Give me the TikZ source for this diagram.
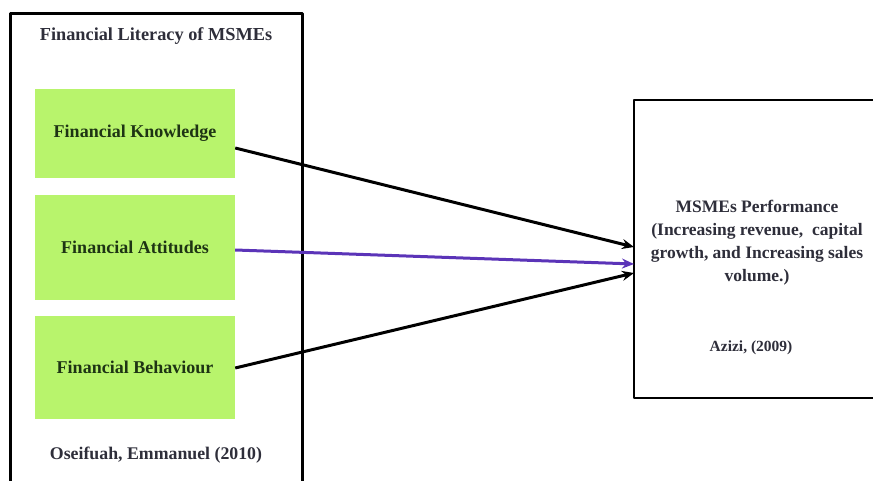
\documentclass[tikz,border=0pt]{standalone}
\usepackage{fontspec}
\setmainfont{Liberation Serif}
\usetikzlibrary{arrows.meta}
\definecolor{limegreen}{HTML}{B8F46C}
\definecolor{darktext}{HTML}{2E2E3A}
\definecolor{greentext}{HTML}{1E3414}
\definecolor{arrowpurple}{HTML}{5B34B8}
\begin{document}
\begin{tikzpicture}[x=1pt, y=-1pt, line join=round, >={Stealth[length=12pt,width=10pt]},
  factor/.style={fill=limegreen, minimum width=200pt, minimum height=96pt, inner sep=0pt, font=\bfseries\fontsize{18}{20}\selectfont, text=greentext},
  link/.style={line width=3pt, ->}]
  \useasboundingbox (0,0) rectangle (873,481);
  \clip (0,0) rectangle (873,481);

  % Khung bên trái: Financial Literacy
  \draw[line width=3pt] (10,14) rectangle (302,520);
  \node[font=\bfseries\fontsize{18.3}{20}\selectfont, text=darktext] (title) at (156,36) {Financial Literacy of MSMEs};
  \node[font=\bfseries\fontsize{17.8}{20}\selectfont, text=darktext] (src1) at (156,455) {Oseifuah, Emmanuel (2010)};

  % Các ô thành phần
  \node[factor, minimum height=89pt] (know) at (135,133.5) {Financial Knowledge};
  \node[factor, minimum height=105pt] (att) at (135,247.5) {Financial Attitudes};
  \node[factor, minimum height=103pt] (beh) at (135,367.5) {Financial Behaviour};

  % Khung bên phải: MSMEs Performance
  \draw[line width=2pt] (900,100) -- (634,100) -- (634,398) -- (900,398);
  \node[align=center, font=\bfseries\fontsize{17.5}{23}\selectfont, text=darktext] (perf) at (757,243) {MSMEs Performance\\(Increasing revenue,\ \ capital\\growth, and Increasing sales\\volume.)};
  \node[font=\bfseries\fontsize{15.5}{17}\selectfont, text=darktext] (src2) at (751,348) {Azizi, (2009)};

  % Điểm đến của các mũi tên
  \coordinate (inK) at (634,247);
  \coordinate (inA) at (634,264);
  \coordinate (inB) at (634,273);

  \draw[link] (know.east |- 0,148) -- (inK);
  \draw[link, arrowpurple] (att.east |- 0,250) -- (inA);
  \draw[link] (beh.east |- 0,368) -- (inB);
\end{tikzpicture}
\end{document}
